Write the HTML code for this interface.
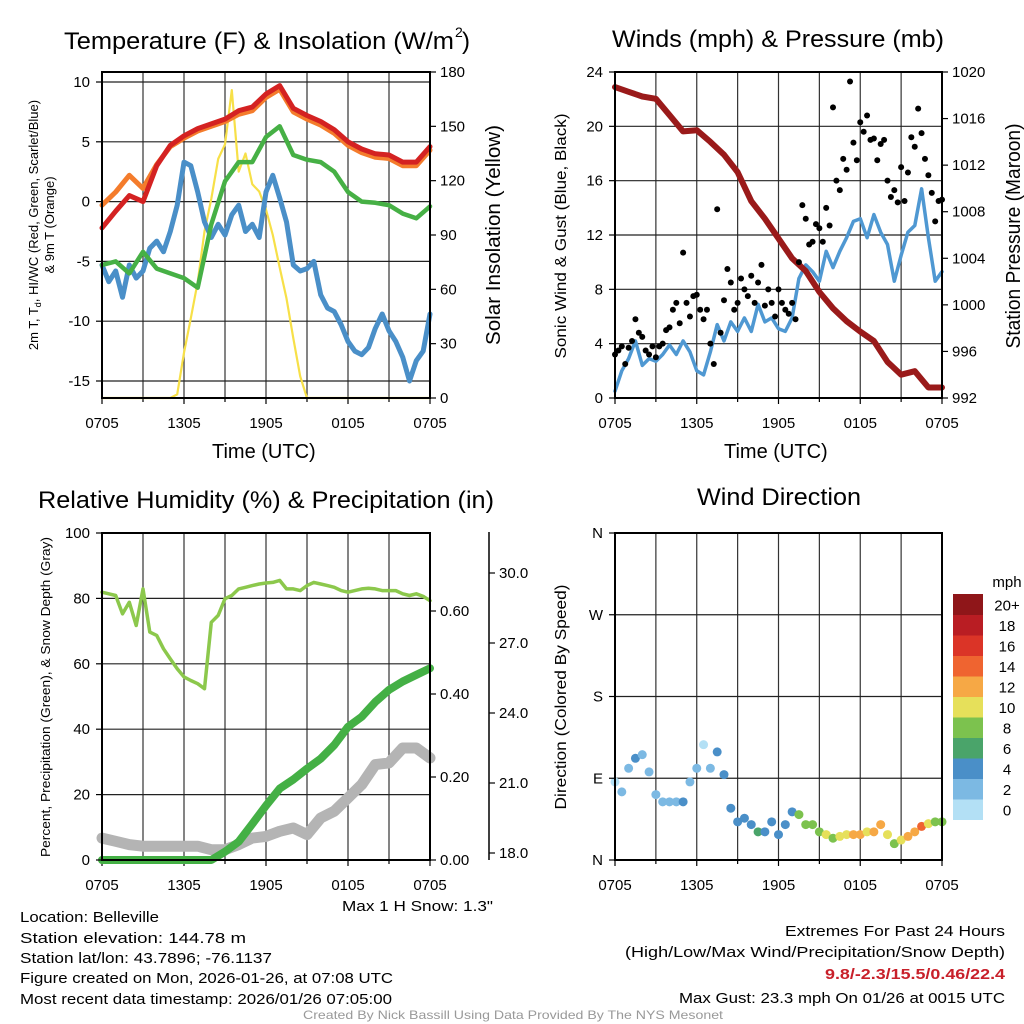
<!DOCTYPE html>
<html><head><meta charset="utf-8"><style>
html,body{margin:0;padding:0;background:#fff;}
svg{display:block;font-family:"Liberation Sans",sans-serif;}
</style></head><body>
<svg id="c" width="1024" height="1024" viewBox="0 0 1024 1024" xmlns="http://www.w3.org/2000/svg"></svg>
<script>
// ---------- DATA ----------
const timeTicks = ["0705","1305","1905","0105","0705"];
const tempRed = [-2.2,-0.8,0.5,0,3,4.7,5.5,6.1,6.5,6.9,7.6,7.9,9,9.7,7.8,7.2,6.7,6,5,4.4,4,3.9,3.3,3.3,4.6];
const temp9mOrange = [-0.3,0.8,2.2,1.1,3.1,4.6,5.3,5.9,6.3,6.7,7.3,7.6,8.7,9.4,7.5,6.9,6.4,5.7,4.7,4.1,3.7,3.6,3.0,3.0,4.3];
const dewGreen = [-5.3,-5,-6,-4.2,-5.6,-6,-6.4,-7.2,-1.9,1.7,3.3,3.3,5.4,6.3,3.9,3.5,3.3,2.5,0.8,0,-0.1,-0.3,-1,-1.4,-0.4];
const windChillBlue = [-5.3,-6.7,-5.8,-8,-5.3,-6.4,-5.8,-3.9,-3.3,-4.2,-2.5,-0.3,3.3,3,0.8,-1.7,-3,-1.9,-2.8,-1.1,-0.3,-2.5,-1.9,-3,0.8,2.2,0.3,-1.7,-5.3,-5.8,-5.6,-5,-7.8,-8.9,-9.2,-10.3,-11.7,-12.5,-12.8,-12.2,-10.6,-9.4,-10.8,-11.7,-13,-15,-13.3,-12.5,-9.4];
const insolation = [0,0,0,0,0,0,0,0,0,0,0,2,25,44,64,92,110,132,140,170,125,135,118,114,104,90,72,55,33,12,0,0,0,0,0,0,0,0,0,0,0,0,0,0,0,0,0,0,0];
const pressure = [1018.7,1018.3,1017.9,1017.7,1016.3,1014.9,1015.0,1014,1012.9,1011.4,1008.9,1007.4,1005.7,1004,1002.9,1001.1,999.7,998.6,997.7,996.9,995.1,994,994.3,992.9,992.9];
const sonicWind = [0.5,2,2.9,4.2,2.4,2.9,2.7,3.2,3.9,3.2,4.2,3.4,2,1.7,3.4,5.4,4.2,5.6,4.9,5.9,4.9,6.9,5.6,5.9,5.1,4.9,5.9,8.8,9.8,9.3,8.6,10.8,9.6,10.8,11.8,13,13.2,11.8,13.5,12.2,11.3,8.6,10.5,12.2,12.7,15.4,11.8,8.6,9.3];
const gust = [3.2,3.5,3.8,2.5, 3.7,4.2,5.8,4.8, 4.5,3.5,3.2,3.8, 3.0,3.8,4.0,5.0, 5.2,6.5,7.0,5.5, 10.7,7.0,6.0,7.5, 7.6,6.5,5.8,6.5, 4.0,2.5,13.9,4.8, 7.2,9.5,8.5,6.5, 7.0,8.8,8.0,7.5, 9.0,7.0,8.5,9.8, 6.8,8.0,7.0,6.0, 8.0,7.0,6.5,6.2, 7.0,5.8,10.0,14.2, 13.2,11.3,11.5,12.8, 12.5,11.5,14.0,12.7, 21.4,16.0,15.3,17.6, 16.8,23.3,18.8,17.5, 20.3,19.6,20.8,19.0, 19.1,17.5,18.7,19.0, 16.0,14.8,15.3,14.4, 17.0,14.5,16.6,19.2, 18.5,21.3,19.5,17.6, 16.4,15.1,13.0,14.5, 14.6];
const rh = [81.9,81.4,80.9,75.3,78.8,71.7,82.9,69.7,68.7,64.6,61.5,58.5,56,54.9,53.9,52.4,72.7,74.8,79.9,80.9,82.9,83.4,83.9,84.4,84.7,84.9,85.5,82.9,82.9,82.4,83.9,84.9,84.4,83.9,83.4,82.4,81.9,82.4,82.9,83.1,82.9,82.4,82.4,82.4,81.4,80.9,81.4,80.6,79.3];
const precip = [0,0,0,0,0,0,0,0,0,0.02,0.044,0.087,0.131,0.172,0.194,0.22,0.244,0.277,0.321,0.345,0.381,0.41,0.43,0.446,0.462];
const snowDepth = [18.64,18.5,18.36,18.29,18.29,18.29,18.29,18.29,18.14,18.14,18.36,18.64,18.71,18.93,19.07,18.79,19.5,19.79,20.36,20.93,21.79,21.86,22.5,22.5,22.07];
const windDir = [86,75,101,112,116,97,72,64,64,64,64,86,101,127,101,119,94,57,42,46,39,31,31,42,28,39,53,50,39,39,31,28,24,26,28,28,28,31,31,39,28,18,22,26,31,37,40,42,42];
const tempTicks = [10,5,0,-5,-10,-15];
const insolTicks = [0,30,60,90,120,150,180];
const windTicks = [0,4,8,12,16,20,24];
const presTicks = [992,996,1000,1004,1008,1012,1016,1020];
const rhTicks = [0,20,40,60,80,100];
const precipTicks = ["0.00","0.20","0.40","0.60"];
const snowTicks = ["18.0","21.0","24.0","27.0","30.0"];
const dirTicks = ["N","E","S","W","N"];
const speedBins = ["0","2","4","6","8","10","12","14","16","18","20+"];
const speedColors = ["#b3e0f5","#7cb9e3","#4a8fc8","#4aa46a","#7cc24e","#e6e05a","#f6a845","#ef6430","#db3427","#b91d23","#8f1619"];

// ---------- HELPERS ----------
const svg = document.getElementById('c');
const NS = "http://www.w3.org/2000/svg";
function mk(tag, attrs, parent){const e=document.createElementNS(NS,tag);for(const k in attrs)e.setAttribute(k,attrs[k]);(parent||svg).appendChild(e);return e;}
function txt(s, attrs, parent){const e=mk('text',attrs,parent);e.textContent=s;return e;}
function lin(d0,d1,r0,r1){return v=>r0+(v-d0)*(r1-r0)/(d1-d0);}

const L1={x0:102,x1:430,y0:72,y1:398};
const L2={x0:615,x1:942,y0:72,y1:398};
const L3={x0:102,x1:430,y0:533,y1:860};
const L4={x0:615,x1:942,y0:533,y1:860};

function frame(P,name,hLines){
  const g=mk('g',{});
  
  
  for(let i=1;i<8;i++){const x=P.x0+i*(P.x1-P.x0)/8;mk('line',{x1:x,x2:x,y1:P.y0,y2:P.y1,stroke:'#333','stroke-width':1.2},g);}
  hLines.forEach(y=>mk('line',{x1:P.x0,x2:P.x1,y1:y,y2:y,stroke:'#222','stroke-width':1.2},g));
  const xt=mk('g',{});
  
  
  for(let i=0;i<=8;i++){const x=P.x0+i*(P.x1-P.x0)/8;mk('line',{x1:x,x2:x,y1:P.y1,y2:P.y1+(i%2==0?6:4),stroke:'#000','stroke-width':1.2},xt);}
  timeTicks.forEach((t,i)=>{const x=P.x0+i*(P.x1-P.x0)/4;txt(t,{x:x,y:P.y1+30,'text-anchor':'middle','font-size':15},xt);});
  return g;
}
function border(P,name){
  const r=mk('rect',{x:P.x0,y:P.y0,width:P.x1-P.x0,height:P.y1-P.y0,fill:'none',stroke:'#000','stroke-width':2});
  
  
}
function poly(P,arr,ys,attrs,name){
  const n=arr.length;const xs=lin(0,n-1,P.x0,P.x1);
  const pts=arr.map((v,i)=>xs(i).toFixed(1)+','+ys(v).toFixed(1)).join(' ');
  const e=mk('polyline',Object.assign({points:pts,fill:'none','stroke-linejoin':'round','stroke-linecap':'round'},attrs));
  
  
  return e;
}
function yTicks(P,vals,labels,ys,side,name,x){
  const g=mk('g',{});
  
  
  const ax=x!==undefined?x:(side=='l'?P.x0:P.x1);
  vals.forEach((v,i)=>{const y=ys(v);
    if(side=='l'){mk('line',{x1:ax-6,x2:ax,y1:y,y2:y,stroke:'#000','stroke-width':1.2},g);txt(labels[i],{x:ax-12,y:y+5,'text-anchor':'end','font-size':15},g);}
    else{mk('line',{x1:ax,x2:ax+6,y1:y,y2:y,stroke:'#000','stroke-width':1.2},g);txt(labels[i],{x:ax+10,y:y+5,'font-size':15},g);}
  });
  return g;
}
function rotTitle(s,x,y,fs,name,len){
  const e=txt(s,{x:0,y:0,transform:`translate(${x},${y}) rotate(-90)`,'text-anchor':'middle','font-size':fs});
  if(len){e.setAttribute('textLength',len);e.setAttribute('lengthAdjust','spacingAndGlyphs');}
  
  
  return e;
}
function title(s,x,y,fs,name,len,extra){
  const e=txt(s,Object.assign({x:x,y:y,'font-size':fs},extra||{}));
  if(len){e.setAttribute('textLength',len);e.setAttribute('lengthAdjust','spacingAndGlyphs');}
  
  
  return e;
}

// ---------- PANEL 1 ----------
const yT=lin(0,10,201.6,82);
const yI=lin(0,180,398,72);
frame(L1,'temp-panel',tempTicks.map(yT));
poly(L1,insolation,yI,{stroke:'#f7e048','stroke-width':2.2},'insolation-line');
poly(L1,windChillBlue,yT,{stroke:'#4a8fc8','stroke-width':5},'wind-chill-line');
poly(L1,dewGreen,yT,{stroke:'#46b045','stroke-width':4.5},'dewpoint-line');
poly(L1,temp9mOrange,yT,{stroke:'#f47c2c','stroke-width':5},'temp-9m-line');
poly(L1,tempRed,yT,{stroke:'#d42222','stroke-width':5},'temp-2m-line');
border(L1,'temp-panel');
yTicks(L1,tempTicks,tempTicks.map(String),yT,'l','temp-y-axis');
yTicks(L1,insolTicks,insolTicks.map(String),yI,'r','insolation-y-axis');
title('Temperature (F) & Insolation (W/m',64,49,24,'temp-panel-title',390);
title('2',455,37,14,'title-superscript');
title(')',462,49,24,'title-paren');
title('Time (UTC)',212,458,20,'temp-x-axis-title');
rotTitle('Solar Insolation (Yellow)',500,235,20,'insolation-y-axis-title',220);
{const e=mk('text',{x:0,y:0,transform:'translate(38,225) rotate(-90)','text-anchor':'middle','font-size':13});
 
 
 const a=mk('tspan',{},e);a.textContent='2m T, T';
 const b=mk('tspan',{'font-size':9,dy:3},e);b.textContent='d';
 const c=mk('tspan',{dy:-3},e);c.textContent=', HI/WC (Red, Green, Scarlet/Blue)';}
rotTitle('& 9m T (Orange)',54,225,13,'temp-y-axis-title-2');

// ---------- PANEL 2 ----------
const yW=lin(0,24,398,72);
const yP=lin(992,1020,398,72);
frame(L2,'wind-panel',windTicks.map(yW));
poly(L2,sonicWind,yW,{stroke:'#4f98d2','stroke-width':3.5},'sonic-wind-line');
poly(L2,pressure,yP,{stroke:'#9a1a1a','stroke-width':6},'pressure-line');
{const xs=lin(0,gust.length-1,L2.x0,L2.x1);
 gust.forEach((v,i)=>{const c=mk('circle',{cx:xs(i),cy:yW(v),r:3,fill:'#000'});
  
  });}
border(L2,'wind-panel');
yTicks(L2,windTicks,windTicks.map(String),yW,'l','wind-y-axis');
yTicks(L2,presTicks,presTicks.map(String),yP,'r','pressure-y-axis');
title('Winds (mph) & Pressure (mb)',612,47,24,'wind-panel-title',332);
title('Time (UTC)',724,458,20,'wind-x-axis-title');
rotTitle('Sonic Wind & Gust (Blue, Black)',566,236,16,'wind-y-axis-title',245);
rotTitle('Station Pressure (Maroon)',1020,236,20,'pressure-y-axis-title',225);

// ---------- PANEL 3 ----------
const yR=lin(0,100,860,533);
const yPr=lin(0,0.2,860,777);
const yS=lin(18,21,853,783);
frame(L3,'humidity-panel',rhTicks.map(yR));
poly(L3,snowDepth,yS,{stroke:'#b4b4b4','stroke-width':11},'snow-depth-line');
poly(L3,precip,yPr,{stroke:'#44b045','stroke-width':8},'precip-line');
poly(L3,rh,yR,{stroke:'#8cc84c','stroke-width':3.5},'rh-line');
border(L3,'humidity-panel');
yTicks(L3,rhTicks,rhTicks.map(String),yR,'l','rh-y-axis');
yTicks(L3,precipTicks.map(Number),precipTicks,yPr,'r','precip-y-axis');
{const a=mk('line',{x1:489,x2:489,y1:532,y2:860,stroke:'#000','stroke-width':1.5});
 
 }
yTicks(L3,snowTicks.map(Number),snowTicks,yS,'r','snow-y-axis',489);
title('Relative Humidity (%) & Precipitation (in)',38,508,24,'humidity-panel-title',456);
rotTitle('Percent, Precipitation (Green), & Snow Depth (Gray)',50,697,13,'humidity-y-axis-title',320);
title('Max 1 H Snow: 1.3"',493,911,15,'max-snow-label',151,{'text-anchor':'end'});

// ---------- PANEL 4 ----------
const yD=lin(0,360,860,533);
frame(L4,'direction-panel',[0,90,180,270,360].map(yD));
{const xs=lin(0,windDir.length-1,L4.x0,L4.x1);
 windDir.forEach((d,i)=>{const b=Math.min(10,Math.floor(sonicWind[i]/2));
  const c=mk('circle',{cx:xs(i),cy:yD(d),r:4.5,fill:speedColors[b]});
  
  });}
border(L4,'direction-panel');
yTicks(L4,[0,90,180,270,360],dirTicks,yD,'l','direction-y-axis');
title('Wind Direction',697,505,24,'direction-panel-title',164);
rotTitle('Direction (Colored By Speed)',566,697,16,'direction-y-axis-title',225);
{const g=mk('g',{});
 
 
 const h=20.5, top=594;
 speedColors.forEach((c,i)=>{const y=top+(10-i)*h;
  const r=mk('rect',{x:953,y:y,width:30,height:h+0.5,fill:c},g);
  
  
  txt(speedBins[i],{x:1007,y:y+h/2+6,'text-anchor':'middle','font-size':15},g);});
 txt('mph',{x:1007,y:587,'text-anchor':'middle','font-size':15},g);}

// ---------- FOOTER TEXT ----------
title('Location: Belleville',20,922,15,'location-text',139);
title('Station elevation: 144.78 m',20,943,15,'elevation-text',226);
title('Station lat/lon: 43.7896; -76.1137',20,963,15,'latlon-text',252);
title('Figure created on Mon, 2026-01-26, at 07:08 UTC',20,983,15,'created-text',373);
title('Most recent data timestamp: 2026/01/26 07:05:00',20,1004,15,'timestamp-text',372);
title('Extremes For Past 24 Hours',1005,936,15,'extremes-title',220,{'text-anchor':'end'});
title('(High/Low/Max Wind/Precipitation/Snow Depth)',1005,957,15,'extremes-subtitle',380,{'text-anchor':'end'});
title('9.8/-2.3/15.5/0.46/22.4',1005,979,15,'extremes-values',180,{fill:'#c8202a','font-weight':'bold','text-anchor':'end'});
title('Max Gust: 23.3 mph On 01/26 at 0015 UTC',1005,1003,15,'max-gust-text',326,{'text-anchor':'end'});
title('Created By Nick Bassill Using Data Provided By The NYS Mesonet',303,1019,12,'credit-text',420,{fill:'#999'});
</script>
</body></html>
